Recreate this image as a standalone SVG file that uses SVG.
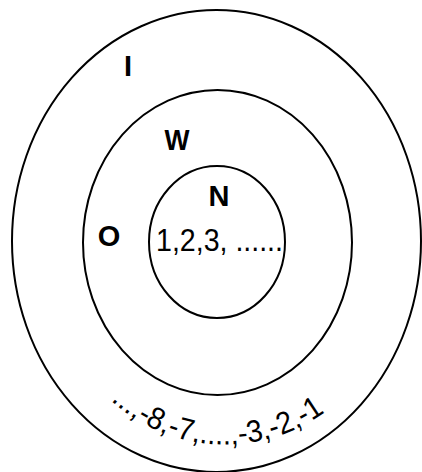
<svg xmlns="http://www.w3.org/2000/svg" width="422" height="472" viewBox="0 0 422 472">
<style>
.ring{fill:none;stroke:#000;stroke-width:2}
.lbl{font-family:"Liberation Sans",Arial,sans-serif;font-weight:bold;font-size:29px;fill:#000;text-anchor:middle}
.num{font-family:"Liberation Sans",Arial,sans-serif;font-size:31px;fill:#000}
</style>
<defs>
<path id="arc" d="M105,395 A170,170 0 0 0 345,395"/>
</defs>
<rect width="422" height="472" fill="#fff"/>
<g id="I">
<ellipse class="ring" cx="216.5" cy="241" rx="204.5" ry="231"/>
<text class="lbl" x="128" y="76">I</text>
<text class="num"><textPath href="#arc" startOffset="8" textLength="232" lengthAdjust="spacingAndGlyphs">...,-8,-7,....,-3,-2,-1</textPath></text>
</g>
<g id="W">
<ellipse class="ring" cx="217.5" cy="242.5" rx="134.5" ry="152.5"/>
<text class="lbl" x="177" y="150" textLength="25" lengthAdjust="spacingAndGlyphs">W</text>
<text class="lbl" x="109" y="246">O</text>
</g>
<g id="N">
<ellipse class="ring" cx="217" cy="242" rx="68" ry="76"/>
<text class="lbl" x="219" y="206">N</text>
<text class="num" x="156" y="251" textLength="127" lengthAdjust="spacingAndGlyphs">1,2,3, ......</text>
</g>
<g id="connectors"/>
</svg>
